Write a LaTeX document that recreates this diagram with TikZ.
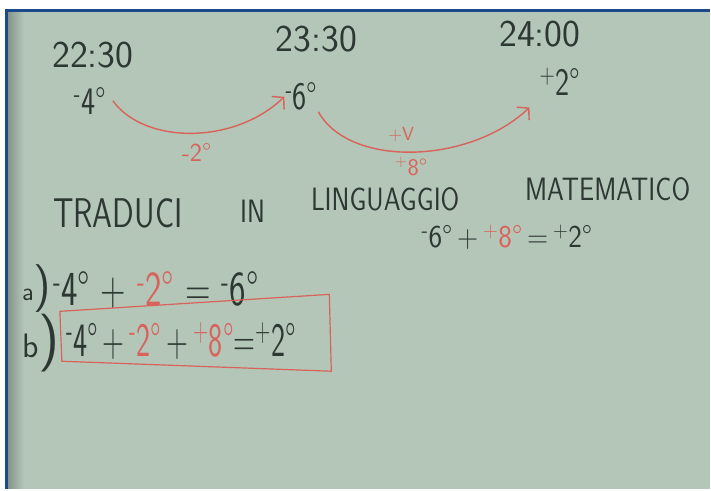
\documentclass[tikz,border=0pt]{standalone}
\usepackage{fontspec}
\usepackage{graphicx}
\usetikzlibrary{arrows.meta}
\definecolor{lavagna}{HTML}{B3C6B8}
\definecolor{gesso}{HTML}{2E3833}
\definecolor{pennarosso}{HTML}{D9625A}
\definecolor{cornice}{HTML}{1B4A8A}
\newcommand{\segno}[1]{\textsuperscript{#1}}
\newcommand{\rosso}[1]{\textcolor{pennarosso}{#1}}
\newcommand{\alto}[2][1.4]{\scalebox{1}[#1]{#2}}

\begin{document}
\begin{tikzpicture}[x=1pt, y=-1pt,
    every node/.style={inner sep=1pt, text=gesso, font=\sffamily},
    ora/.style={font=\sffamily\fontsize{38}{38}\selectfont},
    temp/.style={font=\sffamily\fontsize{30}{30}\selectfont},
    salto/.style={draw=pennarosso, line width=1.4pt, -{Straight Barb[length=8pt, width=18pt]}},
    nota/.style={text=pennarosso, font=\sffamily\fontsize{26}{26}\selectfont},
    titolo/.style={font=\sffamily\fontsize{27}{27}\selectfont}
]
% lavagna
\fill[white] (0,0) rectangle (711,490);
\fill[lavagna] (8,12) rectangle (711,490);
\shade[left color=lavagna!75!black, right color=lavagna] (8,12) rectangle (24,490);
\draw[cornice, line width=3pt] (7,490) -- (7,11) -- (711,11);

% orari e temperature
\node[ora] (h1) at (93,55) {22:30};
\node[ora] (h2) at (317,39) {23:30};
\node[ora] (h3) at (541,34) {24:00};
\node[temp] (t1) at (90,101) {\alto[1.3]{\segno{-}4°}};
\node[temp] (t2) at (302,97) {\alto[1.3]{\segno{-}6°}};
\node[temp] (t3) at (561,82) {\alto[1.3]{\segno{+}2°}};

% salti
\draw[salto] ([shift={(6,0)}]t1.east) .. controls (145,145) and (235,145) .. (t2.west);
\draw[salto] (t2.south east) .. controls (350,168) and (470,165) .. ([shift={(-9,11)}]t3.south west);
\node[nota] (d1) at (197,153) {-2°};
\node[nota, font=\sffamily\fontsize{19}{19}\selectfont] (d2) at (402,135) {+V};
\node[nota, font=\sffamily\fontsize{24}{24}\selectfont] (d3) at (412,167) {\segno{+}8°};

% consegna
\node[titolo, font=\sffamily\fontsize{32}{32}\selectfont] (w1) at (118,214) {\alto[1.3]{TRADUCI}};
\node[titolo] (w2) at (253,212) {\alto[1.2]{IN}};
\node[titolo] (w3) at (386,200) {\alto[1.2]{LINGUAGGIO}};
\node[titolo] (w4) at (609,190) {\alto[1.2]{MATEMATICO}};
\node[font=\sffamily\fontsize{29}{29}\selectfont] (eq) at (508,238)
    {\alto[1.1]{\segno{-}6°\,+\,\rosso{\segno{+}8°}\,=\,\segno{+}2°}};

% righe a) e b)
\node[anchor=base west] (la) at (21,301) {{\fontsize{26}{26}\selectfont a}{\fontsize{48}{48}\selectfont )}};
\node[anchor=base west, font=\sffamily\fontsize{35}{35}\selectfont] (ea) at (52,306)
    {\alto{\segno{-}4° + \rosso{\segno{-}2°} = \segno{-}6°}};
\node[anchor=base west] (lb) at (21,358) {{\fontsize{34}{34}\selectfont b}{\fontsize{58}{58}\selectfont )}};
\node[anchor=base west, font=\sffamily\fontsize{30}{30}\selectfont] (eb) at (65,357)
    {\alto[1.6]{\segno{-}4°\,+\,\rosso{\segno{-}2°}\,+\,\rosso{\segno{+}8°}=\segno{+}2°}};
\draw[pennarosso, line width=1.2pt] (60,312) -- (330,295) -- (332,372) -- (62,362) -- cycle;
\end{tikzpicture}
\end{document}
